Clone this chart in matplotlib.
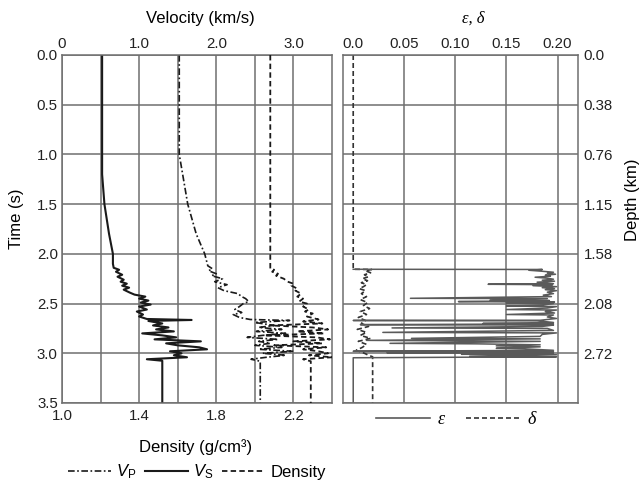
import numpy as np
import matplotlib
matplotlib.use("Agg")
import matplotlib.pyplot as plt
from matplotlib.lines import Line2D

plt.rcParams["font.family"] = ["Liberation Sans", "DejaVu Sans"]
plt.rcParams["mathtext.fontset"] = "custom"
plt.rcParams["mathtext.rm"] = "Liberation Sans"
plt.rcParams["mathtext.it"] = "Liberation Sans:italic"

# ---------------- well-log data (two-way time in seconds) ----------------
vs_time = [0.00, 1.20, 1.50, 1.80, 2.00, 2.10, 2.14, 2.16, 2.18, 2.21, 2.23, 2.26, 2.28,
           2.30, 2.32, 2.34, 2.36, 2.39, 2.41, 2.43, 2.45, 2.47, 2.49, 2.51, 2.53, 2.56,
           2.58, 2.61, 2.63, 2.655, 2.665, 2.675, 2.70, 2.72, 2.74, 2.76, 2.78, 2.80,
           2.82, 2.84, 2.86, 2.88, 2.90, 2.92, 2.94, 2.96, 2.98, 3.00, 3.02, 3.04, 3.06,
           3.075, 3.50]
vs_vel = [0.52, 0.52, 0.55, 0.61, 0.66, 0.66, 0.67, 0.74, 0.70, 0.78, 0.72, 0.80, 0.76,
          0.84, 0.78, 0.87, 0.80, 0.88, 0.94, 1.08, 1.00, 1.12, 1.02, 1.15, 1.00, 1.10,
          0.97, 1.05, 1.00, 1.10, 1.68, 1.12, 1.30, 1.18, 1.38, 1.22, 1.45, 1.04, 1.30,
          1.48, 1.20, 1.80, 1.35, 1.50, 1.78, 1.88, 1.40, 1.55, 1.45, 1.62, 1.10, 1.30,
          1.30]

vp_time = [0.00, 1.00, 1.50, 1.80, 2.00, 2.12, 2.15, 2.17, 2.20, 2.22, 2.25, 2.28, 2.31,
           2.34, 2.37, 2.40, 2.43, 2.45, 2.48, 2.50, 2.53, 2.56, 2.59, 2.61, 2.64, 2.66,
           2.67, 2.69, 2.72, 2.74, 2.76, 2.78, 2.80, 2.82, 2.84, 2.86, 2.88, 2.90, 2.92,
           2.94, 2.96, 2.98, 3.00, 3.02, 3.04, 3.06, 3.08, 3.50]
vp_vel = [1.52, 1.52, 1.63, 1.74, 1.85, 1.89, 1.95, 1.90, 2.00, 1.94, 2.08, 1.98, 2.14,
          2.02, 2.10, 2.28, 2.33, 2.38, 2.42, 2.35, 2.30, 2.24, 2.33, 2.22, 2.30, 2.44,
          2.95, 2.50, 2.75, 2.55, 2.85, 2.52, 2.90, 2.60, 2.40, 2.80, 2.55, 2.70, 2.50,
          2.85, 2.55, 3.00, 2.60, 2.90, 2.65, 2.45, 2.57, 2.57]

rho_time = [0.00, 2.15, 2.16, 2.18, 2.20, 2.22, 2.25, 2.28, 2.30, 2.32, 2.35, 2.37, 2.40,
            2.43, 2.45, 2.48, 2.50, 2.53, 2.56, 2.58, 2.60, 2.63, 2.66, 2.68, 2.70, 2.72,
            2.74, 2.76, 2.78, 2.80, 2.82, 2.84, 2.86, 2.88, 2.90, 2.92, 2.94, 2.96, 2.98,
            3.00, 3.02, 3.04, 3.06, 3.08, 3.50]
rho_val = [2.08, 2.08, 2.10, 2.09, 2.12, 2.11, 2.15, 2.17, 2.20, 2.19, 2.22, 2.21, 2.24,
           2.22, 2.25, 2.23, 2.27, 2.25, 2.28, 2.26, 2.30, 2.27, 2.33, 2.25, 2.35, 2.08,
           2.30, 2.38, 2.22, 2.36, 2.05, 2.32, 2.39, 2.20, 2.35, 2.10, 2.37, 2.25, 2.33,
           2.38, 2.28, 2.40, 2.25, 2.29, 2.29]

eps_time = [2.155, 2.157, 2.165, 2.175, 2.185, 2.195, 2.205, 2.215, 2.225, 2.235, 2.245,
            2.255, 2.265, 2.275, 2.285, 2.300, 2.306, 2.310, 2.320, 2.330, 2.340, 2.350,
            2.360, 2.370, 2.385, 2.400, 2.415, 2.430, 2.447, 2.450, 2.465, 2.470, 2.480,
            2.485, 2.495, 2.500, 2.515, 2.525, 2.530, 2.545, 2.560, 2.565, 2.580, 2.595,
            2.610, 2.615, 2.635, 2.650, 2.668, 2.670, 2.673, 2.690, 2.700, 2.705, 2.712,
            2.716, 2.730, 2.745, 2.750, 2.770, 2.790, 2.795, 2.810, 2.830, 2.850, 2.855,
            2.870, 2.880, 2.900, 2.905, 2.915, 2.925, 2.935, 2.950, 2.955, 2.970, 2.980,
            2.985, 2.995, 3.000, 3.010, 3.015, 3.030, 3.035, 3.045, 3.500]
eps_val = [0.000, 0.185, 0.172, 0.185, 0.196, 0.190, 0.198, 0.188, 0.193, 0.178, 0.190,
           0.196, 0.185, 0.197, 0.180, 0.196, 0.132, 0.195, 0.176, 0.199, 0.185, 0.197,
           0.188, 0.199, 0.190, 0.196, 0.186, 0.194, 0.056, 0.190, 0.134, 0.192, 0.103,
           0.197, 0.150, 0.196, 0.185, 0.150, 0.199, 0.190, 0.150, 0.199, 0.188, 0.197,
           0.150, 0.196, 0.190, 0.199, 0.183, 0.000, 0.180, 0.196, 0.127, 0.196, 0.007,
           0.196, 0.185, 0.038, 0.190, 0.196, 0.029, 0.199, 0.185, 0.183, 0.057, 0.183,
           0.013, 0.183, 0.036, 0.121, 0.183, 0.140, 0.183, 0.140, 0.167, 0.196, 0.000,
           0.196, 0.033, 0.196, 0.106, 0.199, 0.114, 0.199, 0.000, 0.000]

delta_time = [0.00, 2.155, 2.157, 2.17, 2.19, 2.21, 2.23, 2.25, 2.27, 2.29, 2.31, 2.33,
              2.35, 2.37, 2.40, 2.43, 2.46, 2.49, 2.52, 2.55, 2.58, 2.61, 2.64, 2.67,
              2.70, 2.73, 2.76, 2.79, 2.82, 2.85, 2.88, 2.91, 2.94, 2.97, 3.00, 3.02,
              3.035, 3.50]
delta_val = [0.000, 0.000, 0.018, 0.012, 0.017, 0.011, 0.015, 0.009, 0.014, 0.008, 0.013,
             0.010, 0.006, 0.012, 0.008, 0.013, 0.007, 0.014, 0.010, 0.016, 0.007, 0.013,
             0.005, 0.012, 0.008, 0.015, 0.004, 0.013, 0.007, 0.017, 0.005, 0.013, 0.009,
             0.003, 0.011, 0.015, 0.019, 0.019]

# axis ticks and labels
time_ticks = [0.0, 0.5, 1.0, 1.5, 2.0, 2.5, 3.0, 3.5]
depth_labels = ["0.0", "0.38", "0.76", "1.15", "1.58", "2.08", "2.72", ""]
vel_ticks = [0.0, 1.0, 2.0, 3.0]
vel_labels = ["0", "1.0", "2.0", "3.0"]
rho_ticks = [1.0, 1.4, 1.8, 2.2]
rho_labels = ["1.0", "1.4", "1.8", "2.2"]
ani_ticks = [0.0, 0.05, 0.10, 0.15, 0.20]
ani_labels = ["0.0", "0.05", "0.10", "0.15", "0.20"]

# ---------------- figure ----------------
W, H = 639, 484
fig = plt.figure(figsize=(W / 100, H / 100), dpi=100)

GRID = "#6f6f6f"
TXT = "#222222"
TICK_FS = 10.8
LABEL_FS = 12

def px_box(x0, y0, x1, y1):
    return [x0 / W, 1 - y1 / H, (x1 - x0) / W, (y1 - y0) / H]

ax = fig.add_axes(px_box(62, 55, 332, 403))
ax2 = ax.twiny()          # density scale shares the time axis
axr = fig.add_axes(px_box(343, 55, 578, 403))

for a in (ax, axr):
    for s in a.spines.values():
        s.set_color(GRID)
        s.set_linewidth(1.1)

# left panel: velocity on the top axis
ax.set_xlim(0, 3.5)
ax.set_ylim(3.5, 0)
ax.set_xticks(vel_ticks)
ax.set_xticklabels(vel_labels)
ax.set_xticks(np.arange(0.5, 3.5, 1.0), minor=True)
ax.xaxis.set_ticks_position("top")
ax.tick_params(axis="x", which="both", top=True, bottom=False, labeltop=True,
               labelbottom=False, length=0, labelsize=TICK_FS, colors=TXT, pad=3)
ax.set_yticks(time_ticks)
ax.set_yticklabels([f"{t:.1f}" for t in time_ticks])
ax.tick_params(axis="y", length=0, labelsize=TICK_FS, colors=TXT, pad=3)
ax.grid(True, which="both", color=GRID, lw=1.1)
ax.set_axisbelow(True)

ax.plot(vp_vel, vp_time, color="#1a1a1a", lw=1.2, ls=(0, (4, 1.5, 1, 1.5)))
ax.plot(vs_vel, vs_time, color="#1a1a1a", lw=1.5, ls="-")

# density on the bottom axis
ax2.set_xlim(1.0, 2.4)
ax2.set_xticks(rho_ticks)
ax2.set_xticklabels(rho_labels)
ax2.xaxis.set_ticks_position("bottom")
ax2.tick_params(axis="x", top=False, bottom=True, labeltop=False, labelbottom=True,
                length=0, labelsize=TICK_FS, colors=TXT, pad=4)
for s in ax2.spines.values():
    s.set_visible(False)
ax2.plot(rho_val, rho_time, color="#1a1a1a", lw=1.3, ls=(0, (3, 1.8)))

fig.text(200 / W, 1 - 19 / H, "Velocity (km/s)", ha="center", va="center", fontsize=LABEL_FS)
fig.text(196 / W, 1 - 447 / H, "Density (g/cm³)", ha="center", va="center", fontsize=LABEL_FS)
fig.text(17 / W, 1 - 219 / H, "Time (s)", ha="center", va="center", rotation=90,
         fontsize=LABEL_FS)

# right panel: anisotropy parameters
axr.set_xlim(-0.01, 0.22)
axr.set_ylim(3.5, 0)
axr.xaxis.tick_top()
axr.set_xticks(ani_ticks)
axr.set_xticklabels(ani_labels)
axr.yaxis.tick_right()
axr.set_yticks(time_ticks)
axr.set_yticklabels(depth_labels)
axr.tick_params(axis="x", length=0, labelsize=TICK_FS, colors=TXT, pad=3)
axr.tick_params(axis="y", length=0, labelsize=TICK_FS, colors=TXT, pad=4)
axr.grid(True, color=GRID, lw=1.1)
axr.set_axisbelow(True)
axr.get_xgridlines()[0].set_visible(False)

axr.plot(delta_val, delta_time, color="#333333", lw=1.2, ls=(0, (3, 1.8)))
axr.plot(eps_val, eps_time, color="#5a5a5a", lw=1.1, ls="-")

fig.text(473 / W, 1 - 19 / H, "ε, δ", ha="center", va="center", fontsize=LABEL_FS,
         family="Liberation Serif", style="italic")
fig.text(632 / W, 1 - 200 / H, "Depth (km)", ha="center", va="center", rotation=90,
         fontsize=LABEL_FS)

# legends
left_handles = [
    Line2D([], [], color="#1a1a1a", lw=1.2, ls=(0, (4, 1.5, 1, 1.5))),
    Line2D([], [], color="#1a1a1a", lw=1.5, ls="-"),
    Line2D([], [], color="#1a1a1a", lw=1.3, ls=(0, (3, 1.8))),
]
fig.legend(left_handles, [r"$V_\mathrm{P}$", r"$V_\mathrm{S}$", "Density"],
           loc="center", bbox_to_anchor=(197 / W, 1 - 472 / H), ncol=3, frameon=False,
           fontsize=LABEL_FS, handlelength=2.6, handletextpad=0.3, columnspacing=0.5,
           borderpad=0, borderaxespad=0)

right_handles = [
    Line2D([], [], color="#5a5a5a", lw=1.2, ls="-"),
    Line2D([], [], color="#333333", lw=1.2, ls=(0, (3, 1.8))),
]
fig.legend(right_handles, ["ε", "δ"], loc="center",
           bbox_to_anchor=(456 / W, 1 - 420 / H), ncol=2, frameon=False,
           prop={"family": "Liberation Serif", "style": "italic", "size": LABEL_FS + 1},
           handlelength=3.0, handletextpad=0.4, columnspacing=1.2,
           borderpad=0, borderaxespad=0)

fig.savefig("out.png", dpi=100)
